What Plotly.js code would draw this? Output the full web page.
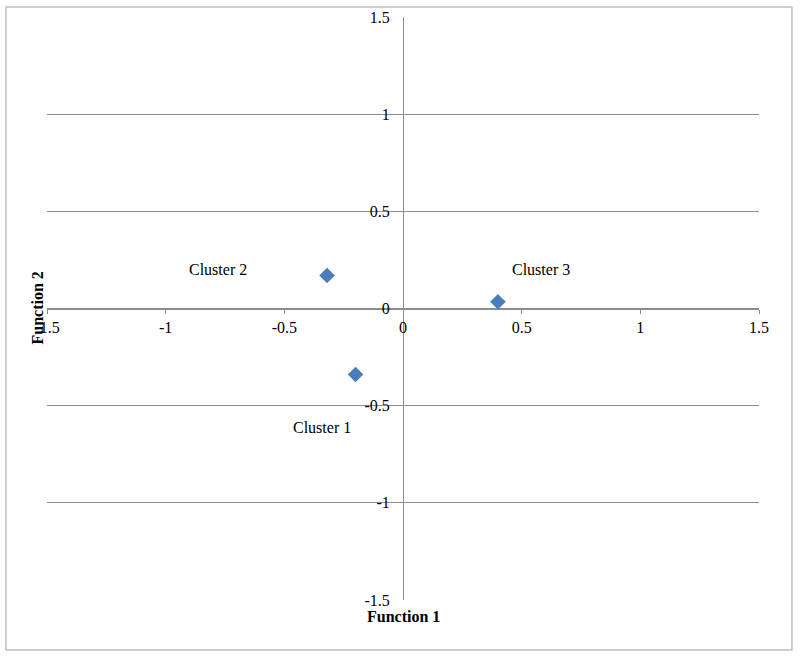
<!DOCTYPE html>
<html>
<head>
<meta charset="utf-8">
<script src="https://cdn.plot.ly/plotly-3.0.1.min.js"></script>
<style>html,body{margin:0;padding:0;background:#fff;}#chart{width:800px;height:658px;}</style>
</head>
<body>
<div id="chart"></div>
<script>
// Data
const function1 = [-0.20, -0.32, 0.40];
const function2 = [-0.34, 0.17, 0.035];
const clusterNames = ["Cluster 1", "Cluster 2", "Cluster 3"];
const labelX = [-0.34, -0.78, 0.58];
const labelY = [-0.61, 0.20, 0.20];
const tickVals = [-1.5, -1, -0.5, 0, 0.5, 1, 1.5];
const tickText = ["-1.5", "-1", "-0.5", "0", "0.5", "1", "1.5"];

const font = {family: "'Liberation Serif', 'Times New Roman', 'DejaVu Serif', serif", size: 16, color: "#000"};

const trace = {
  x: function1, y: function2, mode: "markers", type: "scatter",
  marker: {symbol: "diamond", size: 12, color: "#4A7EBB"},
  text: clusterNames, hoverinfo: "text", showlegend: false
};

const annotations = clusterNames.map((t, i) => ({
  x: labelX[i], y: labelY[i], xref: "x", yref: "y", text: t,
  showarrow: false, font: font
}));
annotations.push({x: 0.5, y: 0, xref: "paper", yref: "paper", yshift: -6, text: "<b>Function 1</b>",
  showarrow: false, font: font, yanchor: "top"});
annotations.push({x: 0, y: 0.5, xref: "paper", yref: "paper", xshift: -10, text: "<b>Function 2</b>",
  showarrow: false, font: font, textangle: -90, xanchor: "center"});

const layout = {
  width: 800, height: 658,
  margin: {l: 47, r: 41, t: 17, b: 58},
  paper_bgcolor: "#fff", plot_bgcolor: "#fff",
  font: font,
  xaxis: {
    range: [-1.5, 1.5], tickvals: tickVals, ticktext: tickText,
    anchor: "free", position: 0.5,
    showgrid: false, zeroline: false,
    showline: true, linecolor: "#8c8c8c", linewidth: 1,
    ticks: "outside", ticklen: 4, tickcolor: "#8c8c8c",
    tickfont: font, fixedrange: true
  },
  yaxis: {
    range: [-1.5, 1.5], tickvals: tickVals, ticktext: tickText,
    anchor: "free", position: 0.5,
    showgrid: true, gridcolor: "#8c8c8c", gridwidth: 1, zeroline: false,
    showline: true, linecolor: "#8c8c8c", linewidth: 1,
    ticks: "", ticklen: 0, ticklabelstandoff: 10, tickfont: font, fixedrange: true
  },
  shapes: [{
    type: "rect", xref: "paper", yref: "paper",
    x0: -0.0576, x1: 1.0463, y0: -0.0858, y1: 1.0172,
    line: {color: "#bfbfbf", width: 1.5}
  }],
  annotations: annotations
};

Plotly.newPlot("chart", [trace], layout, {displayModeBar: false, staticPlot: true});
</script>
</body>
</html>
